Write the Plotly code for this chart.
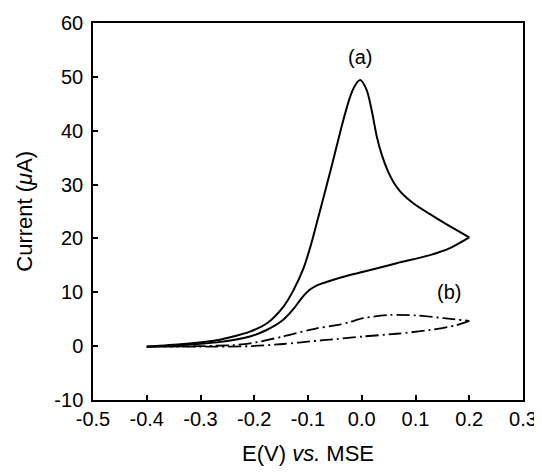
import plotly.graph_objects as go

# curve (a), inner branch (-0.4 -> 0.2)
a_low_E = [-0.40, -0.332, -0.270, -0.208, -0.177, -0.146, -0.127, -0.115, -0.105, -0.095, -0.085,
           -0.075, -0.060, -0.022, 0.003, 0.065, 0.127, 0.164, 0.20]
a_low_I = [-0.1, 0.2, 0.7, 1.8, 3.0, 4.9, 6.9, 8.5, 9.7, 10.6, 11.2,
           11.6, 12.1, 13.2, 13.8, 15.4, 16.9, 18.2, 20.2]
# curve (a), outer branch with the peak (0.2 -> -0.4)
a_up_E = [0.20, 0.158, 0.127, 0.099, 0.085, 0.071, 0.060, 0.049, 0.037, 0.028, 0.0185, 0.009, -0.003,
          -0.013, -0.022, -0.034, -0.044, -0.056, -0.068, -0.082, -0.096, -0.109, -0.127,
          -0.146, -0.177, -0.208, -0.239, -0.270, -0.332, -0.40]
a_up_I = [20.2, 22.6, 24.5, 26.3, 27.4, 28.8, 30.3, 32.4, 35.6, 38.9, 43.8, 47.6, 49.4,
          48.3, 46.2, 42.1, 38.2, 33.4, 28.8, 23.5, 18.3, 14.3, 10.4,
          7.3, 4.2, 2.7, 1.8, 1.1, 0.4, -0.1]

# curve (b), upper branch (-0.4 -> 0.2) and lower branch (0.2 -> -0.4)
b_up_E = [-0.40, -0.30, -0.239, -0.208, -0.146, -0.084, -0.047, -0.022, 0.003, 0.053, 0.102, 0.152, 0.20]
b_up_I = [-0.1, 0.0, 0.2, 0.5, 1.8, 3.3, 3.9, 4.5, 5.2, 5.8, 5.7, 5.2, 4.7]
b_low_E = [0.20, 0.176, 0.127, 0.065, 0.003, -0.059, -0.084, -0.146, -0.208, -0.30, -0.40]
b_low_I = [4.7, 3.9, 3.0, 2.3, 1.8, 1.2, 1.0, 0.4, 0.0, -0.1, -0.1]

x_ticks = [-0.5, -0.4, -0.3, -0.2, -0.1, 0.0, 0.1, 0.2, 0.3]
x_labels = ["-0.5", "-0.4", "-0.3", "-0.2", "-0.1", "0.0", "0.1", "0.2", "0.3"]
y_ticks = [-10, 0, 10, 20, 30, 40, 50, 60]
y_labels = ["-10", "0", "10", "20", "30", "40", "50", "60"]

solid = dict(color="black", width=2, shape="spline", smoothing=0.8)
dashdot = dict(color="black", width=1.8, dash="13px,4px,2px,4px", shape="spline", smoothing=0.8)

fig = go.Figure()
fig.add_trace(go.Scatter(x=a_low_E, y=a_low_I, mode="lines", line=solid))
fig.add_trace(go.Scatter(x=a_up_E, y=a_up_I, mode="lines", line=solid))
fig.add_trace(go.Scatter(x=b_up_E, y=b_up_I, mode="lines", line=dashdot))
fig.add_trace(go.Scatter(x=b_low_E, y=b_low_I, mode="lines", line=dashdot))

fig.add_annotation(x=-0.003, y=53.7, text="(a)", showarrow=False, font=dict(size=20))
fig.add_annotation(x=0.163, y=10.0, text="(b)", showarrow=False, font=dict(size=20))

# axis titles
fig.add_annotation(xref="paper", yref="paper", x=0.5, y=-0.143, text="E(V) <i>vs.</i> MSE",
                   showarrow=False, font=dict(size=22), xanchor="center", yanchor="middle")
fig.add_annotation(xref="paper", yref="paper", x=-0.16, y=0.5, text="Current (<i>μ</i>A)",
                   showarrow=False, font=dict(size=22), textangle=-90, xanchor="center", yanchor="middle")

axis_style = dict(showline=True, linecolor="black", linewidth=1.5, mirror=True, ticks="inside",
                  ticklen=5, tickwidth=1.5, tickcolor="black", showgrid=False, zeroline=False,
                  automargin=False, tickfont=dict(size=20, color="black"))

# page body adds an 8px margin, so the figure is a little smaller than the window
fig.update_layout(
    width=534, height=467, showlegend=False,
    plot_bgcolor="white", paper_bgcolor="white",
    font=dict(family="Liberation Sans, Arial, sans-serif", color="black"),
    margin=dict(l=85, r=19, t=15, b=75),
    xaxis=dict(range=[-0.5, 0.3], tickvals=x_ticks, ticktext=x_labels, ticklabelstandoff=0, **axis_style),
    yaxis=dict(range=[-10, 60], tickvals=y_ticks, ticktext=y_labels, ticklabelstandoff=4, **axis_style),
)

fig.write_html("out.html")
